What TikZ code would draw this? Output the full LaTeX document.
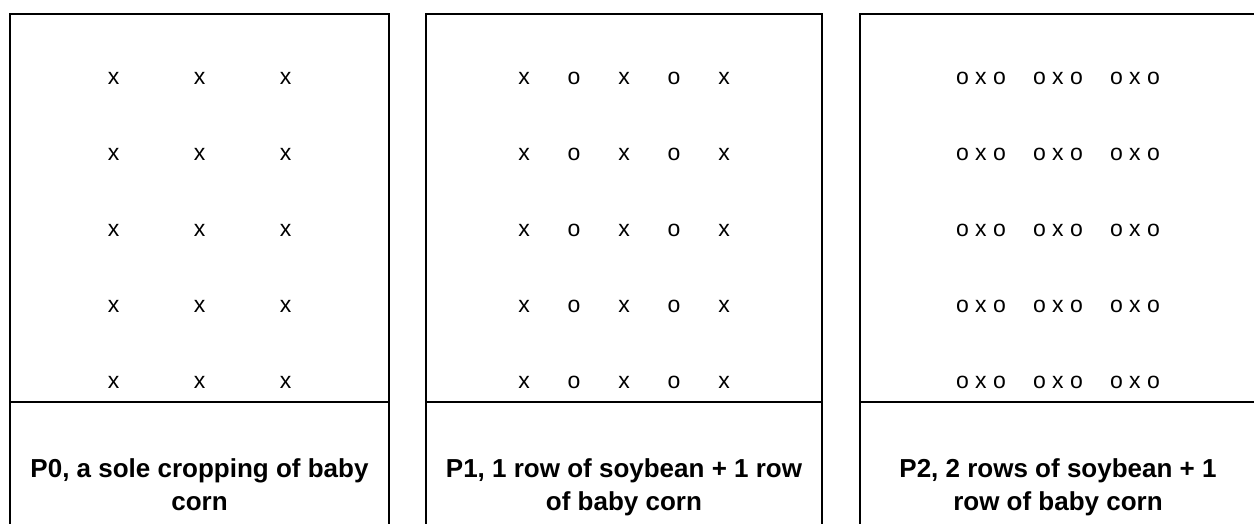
\documentclass[tikz,border=0pt]{standalone}
\usepackage{fontspec}
\setmainfont{Liberation Sans}
\usetikzlibrary{calc}
\tikzset{every scope/.style={thick}}
\tikzset{
  plotbox/.style={draw,line width=1.6pt},
  plant/.style={font=\fontsize{23}{23}\selectfont,inner sep=0pt},
  caption/.style={font=\bfseries\fontsize{26}{33}\selectfont,align=center,anchor=base,inner sep=0pt}
}

\begin{document}
\begin{tikzpicture}[x=1pt,y=-1pt]
      \useasboundingbox (0,0) rectangle (1254,523);
      \clip (0,0) rectangle (1254,523);
      % the three plots, cut off at the bottom of the page
      \draw[plotbox] (10,14) rectangle (389,600);
      \draw[plotbox] (426,14) rectangle (822,600);
      \draw[plotbox] (860,14) rectangle (1256,600);
      \draw[plotbox] (10,402) -- (389,402);
      \draw[plotbox] (426,402) -- (822,402);
      \draw[plotbox] (860,402) -- (1256,402);
      % planting rows
      \foreach \r in {0,...,4} {
        \foreach \c in {-1,0,1}
          \node[plant] (P0-\r\c) at (199.5+86*\c, 78+76*\r) {x};
        \foreach \c/\s in {-2/x,-1/o,0/x,1/o,2/x}
          \node[plant] (P1-\r\c) at (624+50*\c, 78+76*\r) {\s};
        \foreach \c in {-1,0,1}
          \node[plant] (P2-\r\c) at (1058+77*\c, 78+76*\r) {o x o};
      }
      % captions (base is the last line)
      \node[caption] (P0cap) at (199.5,510) {P0, a sole cropping of baby\\corn};
      \node[caption] (P1cap) at (624,510) {P1, 1 row of soybean + 1 row\\of baby corn};
      \node[caption] (P2cap) at (1058,510) {P2, 2 rows of soybean + 1\\row of baby corn};
    \end{tikzpicture}
\end{document}
